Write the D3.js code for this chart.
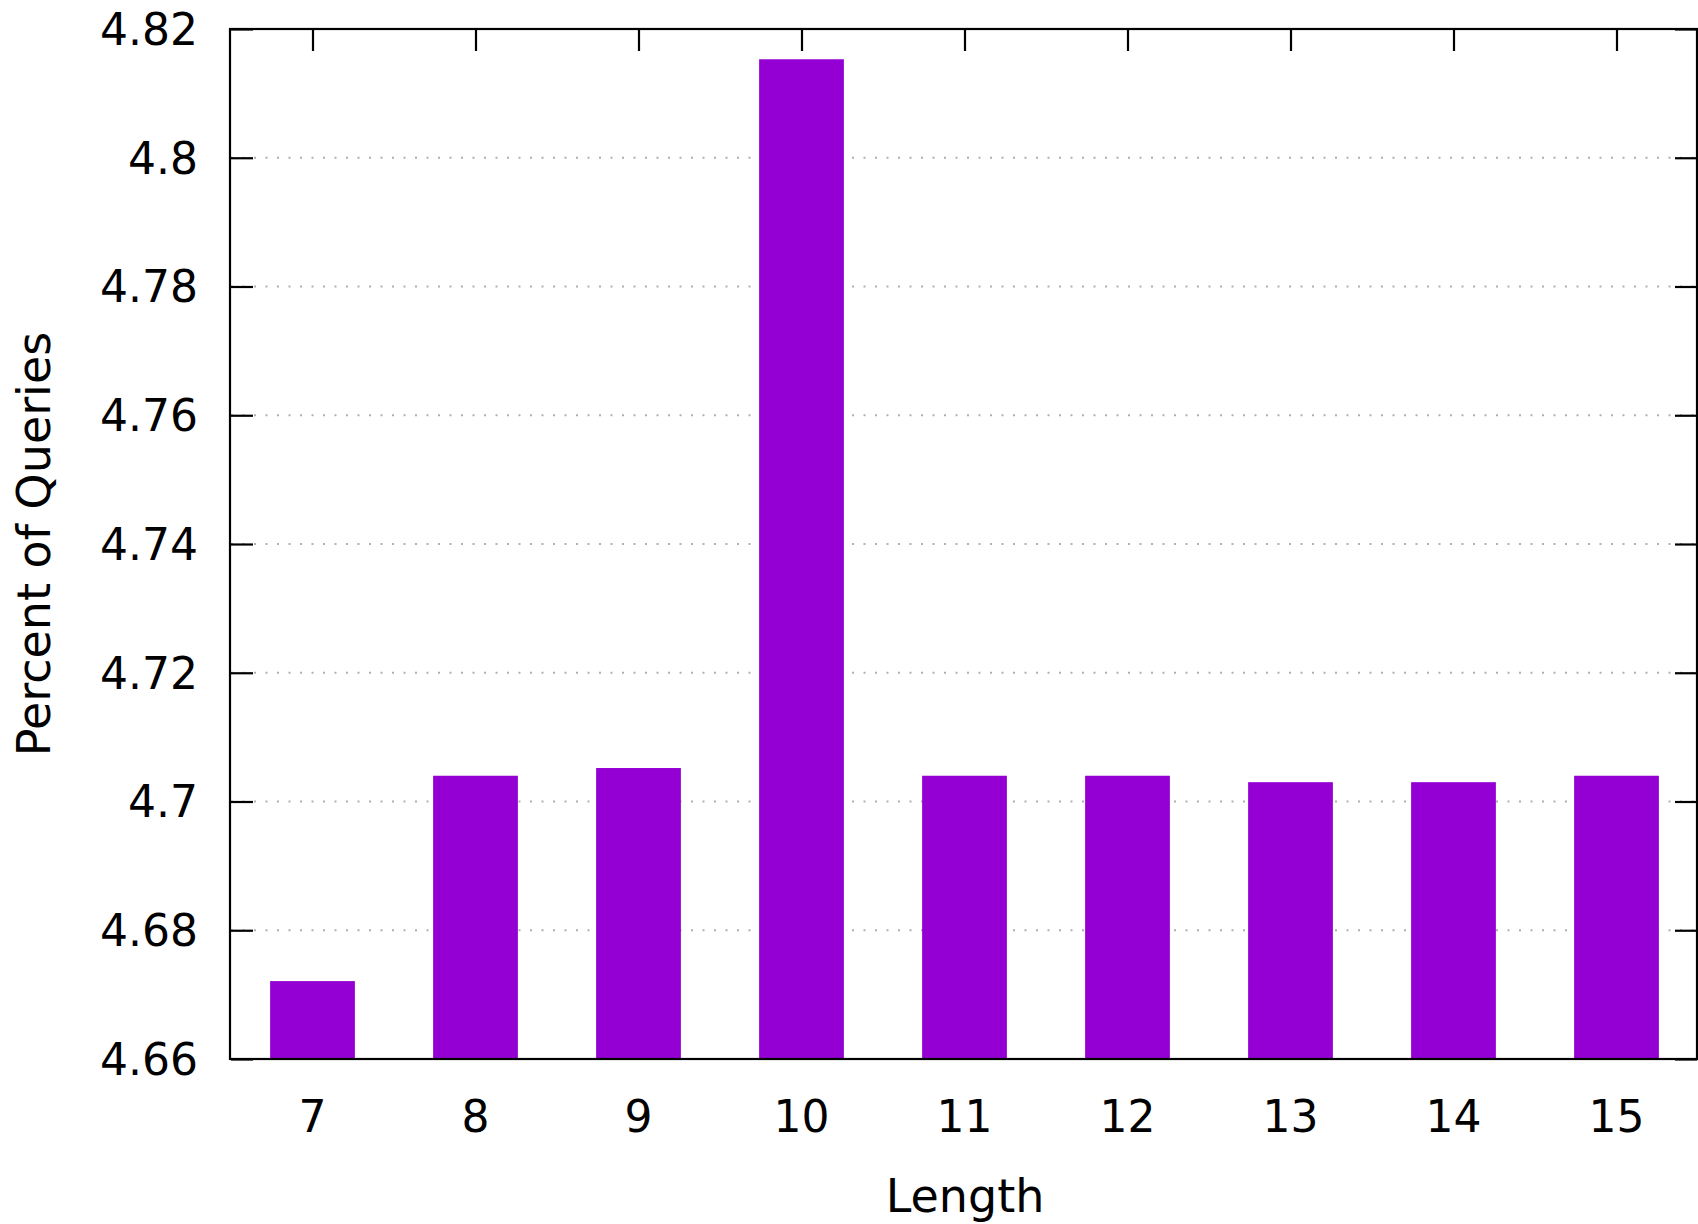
<!DOCTYPE html>
<html>
<head>
<meta charset="utf-8">
<script src="https://cdn.jsdelivr.net/npm/d3@7"></script>
<style>
  html, body { margin: 0; padding: 0; background: #fff; }
  svg { display: block; }
  text { font-family: "DejaVu Sans", sans-serif; fill: #000; }
</style>
</head>
<body>
<svg id="chart" width="1698" height="1224"></svg>
<script>
const lengths = [7, 8, 9, 10, 11, 12, 13, 14, 15];
const percents = [4.6721, 4.704, 4.7052, 4.8153, 4.704, 4.704, 4.703, 4.703, 4.704];
const yTicks = [4.66, 4.68, 4.70, 4.72, 4.74, 4.76, 4.78, 4.80, 4.82];
const yTickLabels = ["4.66", "4.68", "4.7", "4.72", "4.74", "4.76", "4.78", "4.8", "4.82"];
const xLabel = "Length";
const yLabel = "Percent of Queries";

(function () {
const svg = d3.select("#chart");
const pL = 231, pR = 1698, pT = 29, pB = 1059;
const fontSize = 44;
const titleSize = 46;

const x = d3.scaleLinear().domain([6.5, 15.5]).range([pL, pR]);
const y = d3.scaleLinear().domain([4.66, 4.82]).range([pB, pT]);
const boxW = 0.52;

// grid
svg.append("g").selectAll("line")
  .data(yTicks.filter(v => v > 4.661 && v < 4.819))
  .join("line")
  .attr("x1", pL).attr("x2", pR)
  .attr("y1", d => y(d)).attr("y2", d => y(d))
  .attr("stroke", "#b0b0b0").attr("stroke-width", 2)
  .attr("stroke-dasharray", "2 9.5");

// bars
svg.append("g").selectAll("rect")
  .data(lengths.map((l, i) => ({ l, v: percents[i] })))
  .join("rect")
  .attr("x", d => x(d.l - boxW / 2))
  .attr("width", d => x(d.l + boxW / 2) - x(d.l - boxW / 2))
  .attr("y", d => y(d.v))
  .attr("height", d => y(4.66) - y(d.v))
  .attr("fill", "#9400d3");

// axes with inward ticks (gnuplot-like mirrored border)
const tickLen = 22;
const yAxisL = d3.axisRight(y).tickValues(yTicks).tickSize(tickLen).tickFormat("");
const yAxisR = d3.axisLeft(y).tickValues(yTicks).tickSize(tickLen).tickFormat("");
const xAxisT = d3.axisBottom(x).tickValues(lengths).tickSize(tickLen).tickFormat("");

function styleAxis(g) {
  g.select(".domain").remove();
  g.selectAll(".tick line").attr("stroke", "#000").attr("stroke-width", 2.2);
}
svg.append("g").attr("transform", `translate(${pL},0)`).call(yAxisL).call(styleAxis);
svg.append("g").attr("transform", `translate(${pR - 1},0)`).call(yAxisR).call(styleAxis);
svg.append("g").attr("transform", `translate(0,${pT})`).call(xAxisT).call(styleAxis);

// border
svg.append("rect")
  .attr("x", pL - 1).attr("y", pT)
  .attr("width", pR - pL).attr("height", pB - pT)
  .attr("fill", "none").attr("stroke", "#000").attr("stroke-width", 2.2);

// tick labels
svg.append("g").selectAll("text")
  .data(yTicks)
  .join("text")
  .attr("x", 198).attr("y", d => y(d))
  .attr("dy", "0.36em")
  .attr("text-anchor", "end")
  .attr("font-size", fontSize)
  .text((d, i) => yTickLabels[i]);

svg.append("g").selectAll("text")
  .data(lengths)
  .join("text")
  .attr("x", d => x(d)).attr("y", 1132)
  .attr("text-anchor", "middle")
  .attr("font-size", fontSize)
  .text(d => d);

// axis titles
svg.append("text")
  .attr("x", 965).attr("y", 1212)
  .attr("text-anchor", "middle")
  .attr("font-size", titleSize)
  .text(xLabel);

svg.append("text")
  .attr("transform", "translate(50,544) rotate(-90)")
  .attr("text-anchor", "middle")
  .attr("font-size", titleSize)
  .text(yLabel);
})();
</script>
</body>
</html>
